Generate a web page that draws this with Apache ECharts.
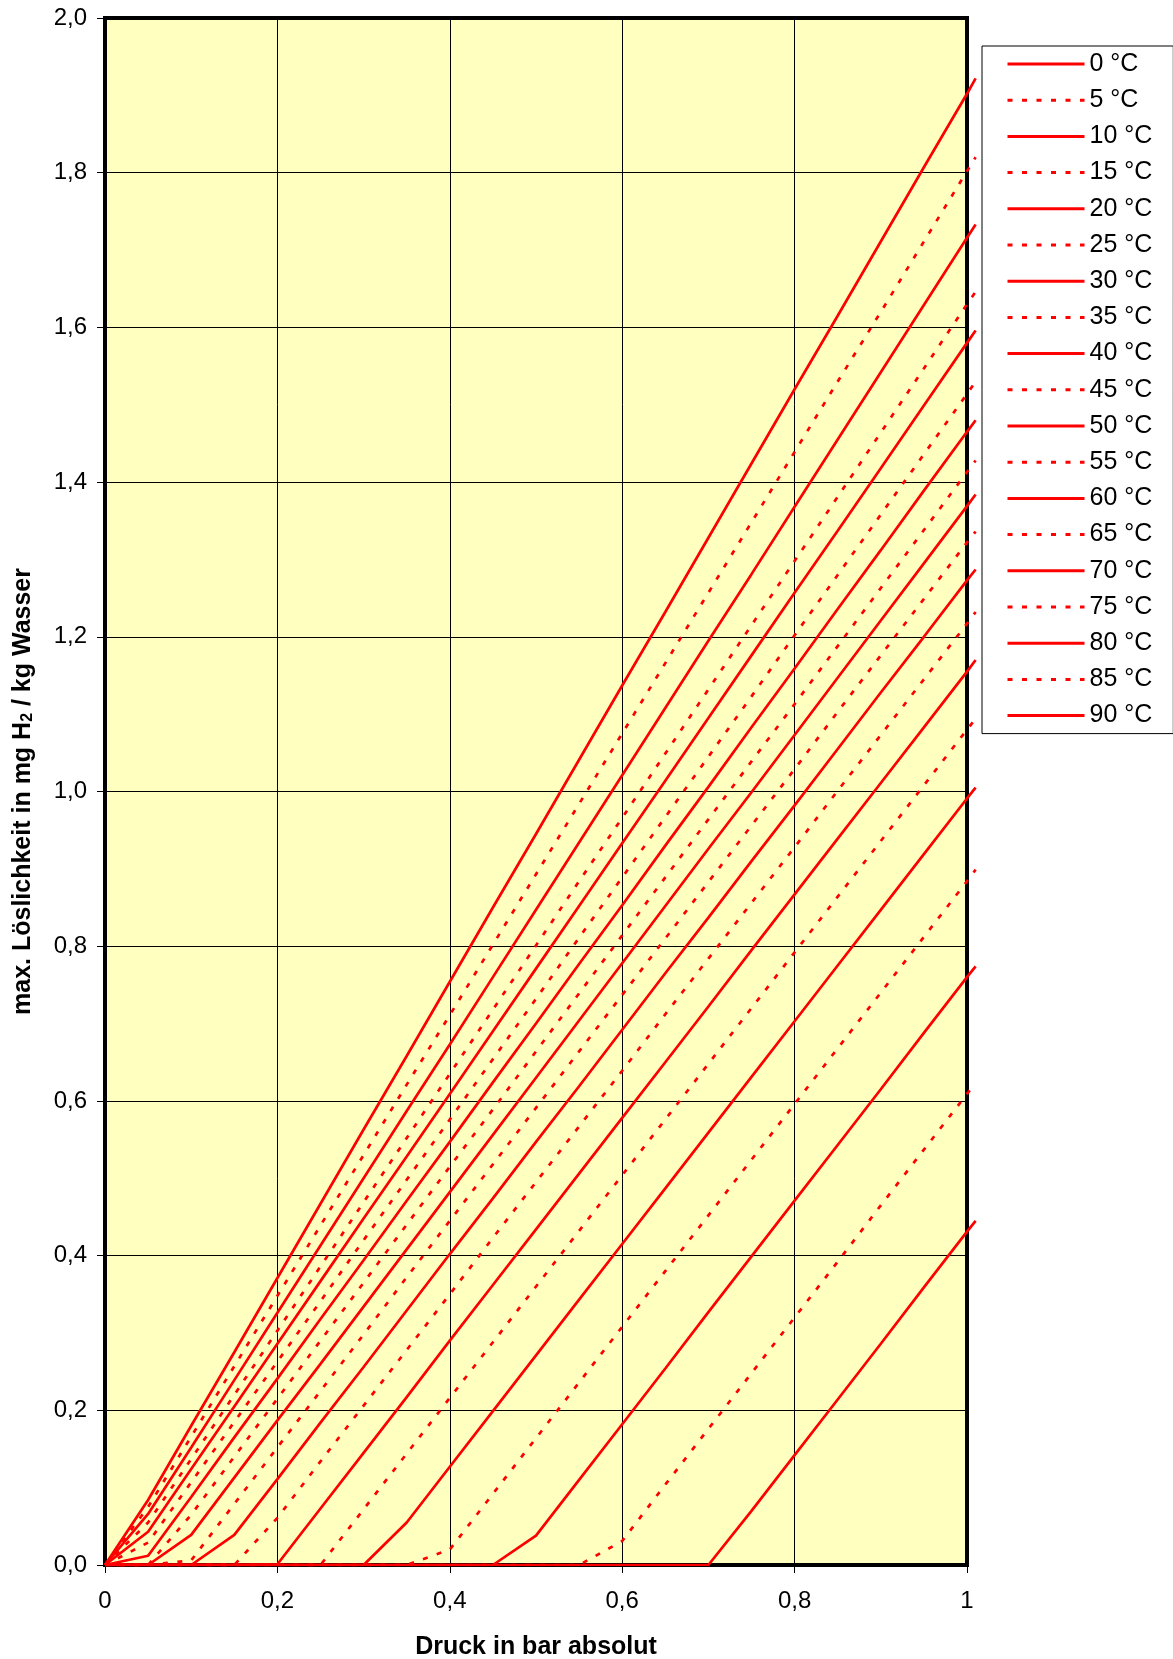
<!DOCTYPE html>
<html><head><meta charset="utf-8">
<script src="https://cdn.jsdelivr.net/npm/echarts@6/dist/echarts.min.js"></script>
<style>html,body{margin:0;padding:0;background:#fff}#c{width:1173px;height:1659px}</style>
</head><body><div id="c"></div>
<script>
// Pressure sample points (bar absolut)
const pressures = [0,0.05,0.1,0.15,0.2,0.25,0.3,0.35,0.4,0.45,0.5,0.55,0.6,0.65,0.7,0.75,0.8,0.85,0.9,0.95,1.0,1.01];
const temperatures = ['0 °C','5 °C','10 °C','15 °C','20 °C','25 °C','30 °C','35 °C','40 °C','45 °C','50 °C','55 °C','60 °C','65 °C','70 °C','75 °C','80 °C','85 °C','90 °C'];
const xTickLabels = ['0','0,2','0,4','0,6','0,8','1'];
const yTickLabels = ['0,0','0,2','0,4','0,6','0,8','1,0','1,2','1,4','1,6','1,8','2,0'];

// max. solubility (mg H2 / kg water) per temperature, at the pressures above
const s0  = [0,0.084,0.180,0.275,0.371,0.467,0.563,0.658,0.754,0.850,0.945,1.041,1.137,1.232,1.328,1.424,1.520,1.615,1.711,1.807,1.902,1.922];
const s5  = [0,0.075,0.166,0.257,0.348,0.439,0.530,0.621,0.711,0.802,0.893,0.984,1.075,1.166,1.257,1.348,1.439,1.530,1.620,1.711,1.802,1.820];
const s10 = [0,0.066,0.152,0.239,0.326,0.413,0.500,0.587,0.673,0.760,0.847,0.934,1.021,1.108,1.195,1.281,1.368,1.455,1.542,1.629,1.716,1.733];
const s15 = [0,0.055,0.137,0.220,0.303,0.386,0.469,0.552,0.635,0.718,0.801,0.884,0.966,1.049,1.132,1.215,1.298,1.381,1.464,1.547,1.630,1.646];
const s20 = [0,0.043,0.124,0.205,0.286,0.367,0.448,0.528,0.609,0.690,0.771,0.852,0.933,1.014,1.095,1.176,1.257,1.337,1.418,1.499,1.580,1.596];
const s25 = [0,0.029,0.107,0.185,0.263,0.341,0.420,0.498,0.576,0.654,0.732,0.811,0.889,0.967,1.045,1.123,1.202,1.280,1.358,1.436,1.514,1.530];
const s30 = [0,0.012,0.088,0.165,0.241,0.318,0.394,0.471,0.547,0.624,0.700,0.777,0.853,0.930,1.006,1.083,1.159,1.236,1.312,1.389,1.465,1.480];
const s35 = [0,0,0.065,0.140,0.215,0.290,0.365,0.440,0.515,0.589,0.664,0.739,0.814,0.889,0.964,1.039,1.113,1.188,1.263,1.338,1.413,1.428];
const s40 = [0,0,0.039,0.113,0.187,0.260,0.334,0.408,0.482,0.556,0.630,0.704,0.778,0.852,0.926,0.999,1.073,1.147,1.221,1.295,1.369,1.384];
const s45 = [0,0,0.006,0.079,0.152,0.225,0.298,0.372,0.445,0.518,0.591,0.664,0.737,0.810,0.883,0.956,1.029,1.103,1.176,1.249,1.322,1.336];
const s50 = [0,0,0,0.039,0.111,0.184,0.256,0.329,0.402,0.474,0.547,0.619,0.692,0.765,0.837,0.910,0.982,1.055,1.128,1.200,1.273,1.287];
const s55 = [0,0,0,0,0.061,0.134,0.206,0.278,0.350,0.423,0.495,0.567,0.639,0.712,0.784,0.856,0.928,1.001,1.073,1.145,1.217,1.232];
const s60 = [0,0,0,0,0.001,0.073,0.145,0.217,0.290,0.362,0.434,0.506,0.578,0.650,0.722,0.795,0.867,0.939,1.011,1.083,1.155,1.170];
const s65 = [0,0,0,0,0,0,0.072,0.144,0.216,0.288,0.360,0.432,0.504,0.576,0.648,0.720,0.792,0.864,0.936,1.008,1.080,1.094];
const s70 = [0,0,0,0,0,0,0,0.055,0.127,0.199,0.271,0.343,0.415,0.487,0.559,0.631,0.703,0.775,0.847,0.919,0.991,1.005];
const s75 = [0,0,0,0,0,0,0,0,0.020,0.092,0.164,0.236,0.308,0.380,0.452,0.524,0.596,0.668,0.740,0.812,0.884,0.899];
const s80 = [0,0,0,0,0,0,0,0,0,0,0.038,0.110,0.182,0.254,0.327,0.399,0.471,0.543,0.615,0.688,0.760,0.774];
const s85 = [0,0,0,0,0,0,0,0,0,0,0,0,0.031,0.104,0.176,0.248,0.320,0.392,0.465,0.537,0.609,0.623];
const s90 = [0,0,0,0,0,0,0,0,0,0,0,0,0,0,0,0.070,0.142,0.214,0.286,0.359,0.431,0.445];

const allSeries = [s0,s5,s10,s15,s20,s25,s30,s35,s40,s45,s50,s55,s60,s65,s70,s75,s80,s85,s90];

const FONT = "'Liberation Sans', Arial, sans-serif";
const chart = echarts.init(document.getElementById('c'), null, {renderer: 'canvas'});

// plot area geometry
const W = 1173;
const G = {left: 105, top: 18, bottom: 94, right: 206};
const X_MAX_VIS = 1, X_MAX_DATA = 1.01;   // lines run a little past the right border, as in the original
const plotW = W - G.left - G.right;
const dataRight = W - G.left - plotW * X_MAX_DATA / X_MAX_VIS;

const series = allSeries.map((vals, i) => ({
  name: temperatures[i],
  type: 'line',
  xAxisIndex: 1, yAxisIndex: 1,
  symbol: 'none',
  silent: true,
  animation: false,
  data: pressures.map((p, j) => [p, vals[j]]),
  lineStyle: {color: '#FF0000', width: 2.7, type: (i % 2 === 0) ? 'solid' : [5, 9.5], cap: 'butt'},
  itemStyle: {color: '#FF0000'}
}));

const axisLabelBase = {fontSize: 24, color: '#000', fontFamily: FONT};

chart.setOption({
  animation: false,
  backgroundColor: '#ffffff',
  textStyle: {fontFamily: FONT},
  grid: [
    {left: G.left, top: G.top, bottom: G.bottom, right: G.right, outerBoundsMode: 'none', containLabel: false,
     show: true, backgroundColor: '#FFFFC0', borderColor: '#000000', borderWidth: 4},
    {left: G.left, top: G.top, bottom: G.bottom, right: dataRight, outerBoundsMode: 'none', containLabel: false, show: false}
  ],
  legend: {
    orient: 'vertical', left: 982, top: 46,
    padding: [5, 21, 5, 24],
    itemGap: 10.2, itemWidth: 77, itemHeight: 14,
    backgroundColor: '#ffffff', borderColor: '#000000', borderWidth: 1, borderRadius: 0,
    textStyle: {fontSize: 25, fontFamily: FONT, color: '#000', lineHeight: 26},
    lineStyle: {width: 3},
    itemStyle: {opacity: 0},
    data: temperatures
  },
  xAxis: [
    {
      gridIndex: 0, type: 'value', min: 0, max: X_MAX_VIS, interval: 0.2,
      name: 'Druck in bar absolut', nameLocation: 'middle', nameGap: 70,
      nameTextStyle: {fontSize: 25, fontWeight: 'bold', color: '#000', fontFamily: FONT},
      axisLine: {show: false},
      axisTick: {show: true, inside: false, length: 8, lineStyle: {color: '#000', width: 1}},
      axisLabel: Object.assign({}, axisLabelBase, {margin: 24, formatter: v => xTickLabels[Math.round(v / 0.2)]}),
      splitLine: {show: true, lineStyle: {color: '#000', width: 1}}
    },
    {gridIndex: 1, type: 'value', min: 0, max: X_MAX_DATA, show: false, splitLine: {show: false}}
  ],
  yAxis: [
    {
      gridIndex: 0, type: 'value', min: 0, max: 2, interval: 0.2,
      name: 'max. Löslichkeit in mg H{sub|2} / kg Wasser',
      nameLocation: 'middle', nameGap: 69, nameRotate: 90,
      nameTextStyle: {
        fontSize: 25, fontWeight: 'bold', color: '#000', fontFamily: FONT,
        rich: {sub: {fontSize: 16, fontWeight: 'bold', color: '#000', fontFamily: FONT, verticalAlign: 'bottom', lineHeight: 14}}
      },
      axisLine: {show: false},
      axisTick: {show: true, inside: false, length: 8, lineStyle: {color: '#000', width: 1}},
      axisLabel: Object.assign({}, axisLabelBase, {margin: 18, formatter: v => yTickLabels[Math.round(v / 0.2)]}),
      splitLine: {show: true, lineStyle: {color: '#000', width: 1}}
    },
    {gridIndex: 1, type: 'value', min: 0, max: 2, show: false, splitLine: {show: false}}
  ],
  series: series
});
</script>
</body></html>
